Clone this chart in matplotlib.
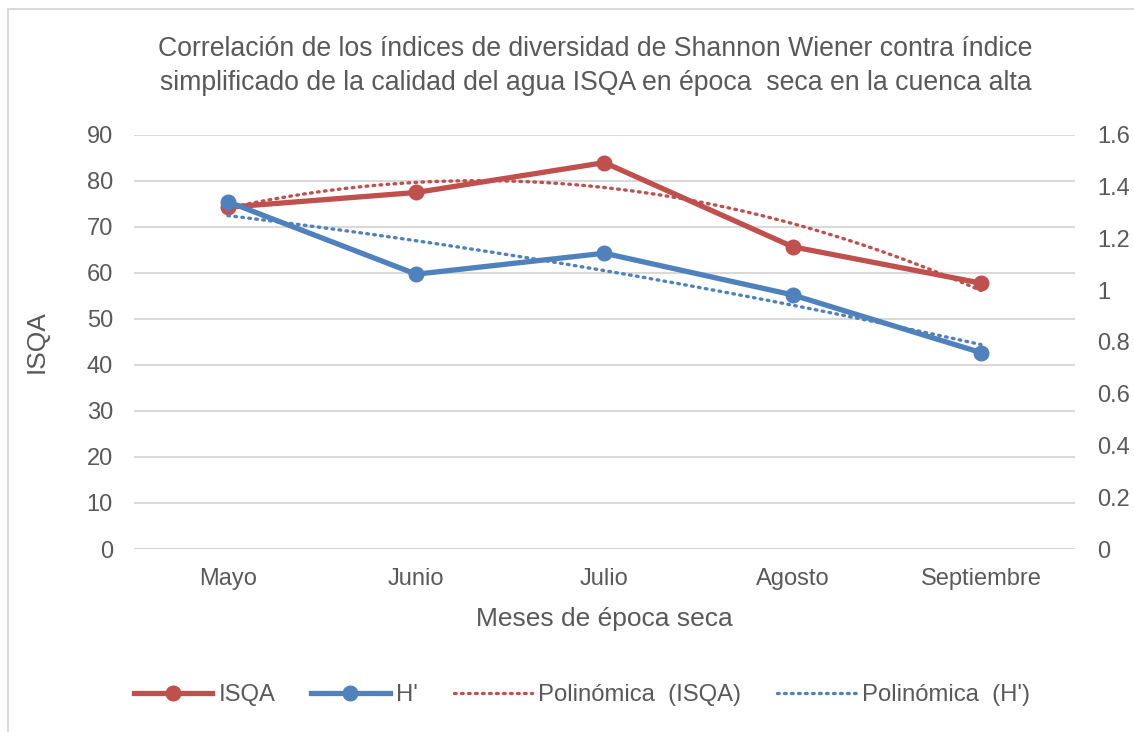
import numpy as np
import matplotlib
matplotlib.use('Agg')
import matplotlib.pyplot as plt
from matplotlib.patches import Rectangle

plt.rcParams['font.family'] = ['Liberation Sans', 'DejaVu Sans']

meses = ['Mayo', 'Junio', 'Julio', 'Agosto', 'Septiembre']
isqa = [74.3, 77.5, 84.0, 65.7, 57.8]
h_prima = [1.342, 1.062, 1.143, 0.982, 0.759]

left_ticks = [0, 10, 20, 30, 40, 50, 60, 70, 80, 90]
right_ticks = [0, 0.2, 0.4, 0.6, 0.8, 1.0, 1.2, 1.4, 1.6]

red = '#C0504D'
blue = '#4F81BD'
gray = '#595959'
grid = '#D9D9D9'

x = np.arange(1, len(meses) + 1)
xs = np.linspace(1, len(meses), 200)
fit_isqa = np.polyval(np.polyfit(x, isqa, 2), xs)
fit_h = np.polyval(np.polyfit(x, h_prima, 2), xs)

fig = plt.figure(figsize=(11.34, 7.32), dpi=100)
ax = fig.add_axes([0.118, 0.25, 0.830, 0.5656])
ax2 = ax.twinx()

# frame around chart
fig.patches.append(Rectangle((8 / 1134, -0.05), 1.2, 1 - 9 / 732 + 0.05, transform=fig.transFigure,
                             fill=False, edgecolor='#D9D9D9', lw=1.5))

ax.set_xlim(0.5, len(meses) + 0.5)
ax.set_ylim(0, 90)
ax2.set_ylim(0, 1.6)
ax.set_yticks(left_ticks)
ax2.set_yticks(right_ticks)
ax2.set_yticklabels(['{:g}'.format(t) for t in right_ticks])
ax.set_xticks(x)
ax.set_xticklabels(meses)
ax.yaxis.grid(True, color=grid, lw=1.5)
ax.set_axisbelow(True)

for a in (ax, ax2):
    for s in a.spines.values():
        s.set_visible(False)
    a.tick_params(length=0, labelsize=17, colors=gray)
ax.tick_params(axis='y', pad=15)
ax2.tick_params(axis='y', pad=16)
ax.tick_params(axis='x', pad=14)

l1, = ax.plot(x, isqa, color=red, lw=3.8, marker='o', ms=10.5, label='ISQA', zorder=3)
l3, = ax.plot(xs, fit_isqa, color=red, lw=2.4, ls=(0, (0.5, 1.6)), dash_capstyle='round',
              label='Polinómica  (ISQA)', zorder=2)
l2, = ax2.plot(x, h_prima, color=blue, lw=3.8, marker='o', ms=10.5, label="H'", zorder=3)
l4, = ax2.plot(xs, fit_h, color=blue, lw=2.4, ls=(0, (0.5, 1.6)), dash_capstyle='round',
               label="Polinómica  (H')", zorder=2)

ax.set_ylabel('ISQA', fontsize=19, color=gray, labelpad=27)
ax.set_xlabel('Meses de época seca', fontsize=19, color=gray, labelpad=12)

fig.text(0.525, 0.910, 'Correlación de los índices de diversidad de Shannon Wiener contra índice\n'
         'simplificado de la calidad del agua ISQA en época  seca en la cuenca alta',
         ha='center', va='center', fontsize=19.2, color=gray, linespacing=1.4)

fig.legend([l1, l2, l3, l4], [l.get_label() for l in (l1, l2, l3, l4)],
           loc='center', bbox_to_anchor=(0.513, 0.05), ncol=4, frameon=False,
           fontsize=17.2, labelcolor=gray, handlelength=3.3, handletextpad=0.25,
           columnspacing=1.5)

fig.savefig('out.png', dpi=100)
